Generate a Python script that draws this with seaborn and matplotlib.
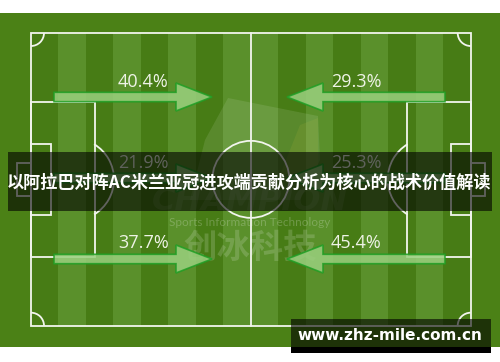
import numpy as np
import pandas as pd
import seaborn as sns
import matplotlib
matplotlib.use("Agg")
import matplotlib.pyplot as plt
from matplotlib.patches import Rectangle, Arc, Circle, FancyArrow, Polygon

# ---- data ----
title = "以阿拉巴对阵AC米兰亚冠进攻端贡献分析为核心的战术价值解读"
url = "www.zhz-mile.com.cn"
lanes = ["top", "middle", "bottom"]
left_pct = [40.4, 21.9, 37.7]     # arrows pointing right (left half)
right_pct = [29.3, 25.3, 45.4]    # arrows pointing left (right half)
watermark_big = "CHAMPION"
watermark_sub = "Sports Information Technology"
watermark_cn = "创冰科技"

sns.set_theme(style="white")
plt.rcParams['font.family'] = ['Noto Sans CJK SC', 'DejaVu Sans']

W, H = 500, 362
fig = plt.figure(figsize=(W / 100, H / 100), dpi=100)
fig.patch.set_facecolor("white")
ax = fig.add_axes([0, 0, 1, 1])
ax.set_xlim(0, W)
ax.set_ylim(H, 0)
ax.axis("off")

# ---- layout ----
BG = "#4b8116"
DARK = "#477c15"
LIGHT = "#5a902b"
LINE = "#f2f5ee"
lw = 1.3

ax.add_patch(Rectangle((0, 13), W, 334, facecolor=BG, edgecolor="none", zorder=0))

L, R, T, B = 31, 470.7, 33, 325.7
CX, CY = (L + R) / 2, (T + B) / 2
n = 16
sw = (R - L) / n
shade = []
for i in range(n):
    j = i if i < n // 2 else n - 1 - i
    shade.append(LIGHT if j % 2 == 1 else DARK)
stripes = pd.DataFrame({"x": [L + sw * (i + 0.5) for i in range(n)], "h": [B - T] * n})
for i, row in stripes.iterrows():
    ax.add_patch(Rectangle((row.x - sw / 2, T), sw, row.h, facecolor=shade[i],
                           edgecolor="none", zorder=1))

def line_rect(x0, y0, x1, y1):
    ax.add_patch(Rectangle((x0, y0), x1 - x0, y1 - y0, fill=False, edgecolor=LINE,
                           lw=lw, zorder=3))

line_rect(L, T, R, B)
ax.plot([CX, CX], [T, B], color=LINE, lw=lw, zorder=3)
ax.add_patch(Circle((CX, CY), 38.5, fill=False, edgecolor=LINE, lw=lw, zorder=3))
# penalty boxes
line_rect(L, 101.7, 94.7, 257.3)
line_rect(407.3, 101.7, R, 257.3)
# goal areas
line_rect(L, 144.3, 51.3, 214.5)
line_rect(450.7, 144.3, R, 214.5)
# goals
line_rect(17, 163, L, 196)
line_rect(R, 163, 485, 196)
# penalty arcs
ax.add_patch(Arc((73, CY), 82, 82, theta1=-59, theta2=59, edgecolor=LINE, lw=lw, zorder=3))
ax.add_patch(Arc((R - 42, CY), 82, 82, theta1=121, theta2=239, edgecolor=LINE, lw=lw, zorder=3))
# corner arcs (y axis inverted)
rc = 26
ax.add_patch(Arc((L, T), rc, rc, theta1=0, theta2=90, edgecolor=LINE, lw=lw, zorder=3))
ax.add_patch(Arc((R, T), rc, rc, theta1=90, theta2=180, edgecolor=LINE, lw=lw, zorder=3))
ax.add_patch(Arc((L, B), rc, rc, theta1=270, theta2=360, edgecolor=LINE, lw=lw, zorder=3))
ax.add_patch(Arc((R, B), rc, rc, theta1=180, theta2=270, edgecolor=LINE, lw=lw, zorder=3))

# watermark
ax.add_patch(Polygon([(228, 98), (318, 116), (320, 160), (300, 200), (190, 200), (205, 140)],
                     closed=True, facecolor="white", alpha=0.10, edgecolor="none", zorder=2))
ax.add_patch(Polygon([(300, 125), (318, 118), (318, 170), (280, 175)],
                     closed=True, facecolor="#c8c040", alpha=0.12, edgecolor="none", zorder=2))
ax.text(250, 201, watermark_big, fontsize=23, fontweight="bold", style="italic",
        family="DejaVu Sans", color="white", alpha=0.10, ha="center", va="center", zorder=2)
ax.text(250, 222, watermark_sub, fontsize=8.5, family="Lato", color="white",
        alpha=0.22, ha="center", va="center", zorder=2)
ax.text(250, 248, watermark_cn, fontsize=24, fontweight="bold", family="Noto Sans CJK SC",
        color="white", alpha=0.16, ha="center", va="center", zorder=2)

# arrows and labels
lane_y = [97, 178, 259]
label_y = [82, 163, 243.5]
ARROW_FC = "#9ad07e"
ARROW_EC = "#1f9e24"
for k in range(len(lanes)):
    y = lane_y[k]
    a = FancyArrow(54, y, 158, 0, width=9.4, head_width=28, head_length=36,
                   length_includes_head=True, facecolor=ARROW_FC, edgecolor=ARROW_EC,
                   lw=1.2, alpha=0.85, zorder=4)
    ax.add_patch(a)
    a = FancyArrow(445, y, -158, 0, width=9.4, head_width=28, head_length=36,
                   length_includes_head=True, facecolor=ARROW_FC, edgecolor=ARROW_EC,
                   lw=1.2, alpha=0.85, zorder=4)
    ax.add_patch(a)
    ax.text(143.5, label_y[k], f"{left_pct[k]}%", fontsize=13, family="Open Sans",
            color="#eef3e6", ha="center", va="center", zorder=5)
    ax.text(356, label_y[k], f"{right_pct[k]}%", fontsize=13, family="Open Sans",
            color="#eef3e6", ha="center", va="center", zorder=5)

# title banner
ax.add_patch(Rectangle((8, 152.3), 484, 58.4, facecolor="black", alpha=0.6,
                       edgecolor="none", zorder=6))
ax.text(249.5, 183, title, fontsize=12.3, fontweight="bold", color="white",
        ha="center", va="center", zorder=7)

# url banner
ax.add_patch(Rectangle((291, 318.7), 200, 34, facecolor="black", alpha=0.6,
                       edgecolor="none", zorder=6))
ax.add_patch(Rectangle((291, 347), 200, 5.7, facecolor="black", edgecolor="none", zorder=6))
ax.text(390, 336, url, fontsize=11, fontweight="bold", family="DejaVu Sans",
        color="white", ha="center", va="center", zorder=7)

fig.savefig("out.png", dpi=100, facecolor="white")
